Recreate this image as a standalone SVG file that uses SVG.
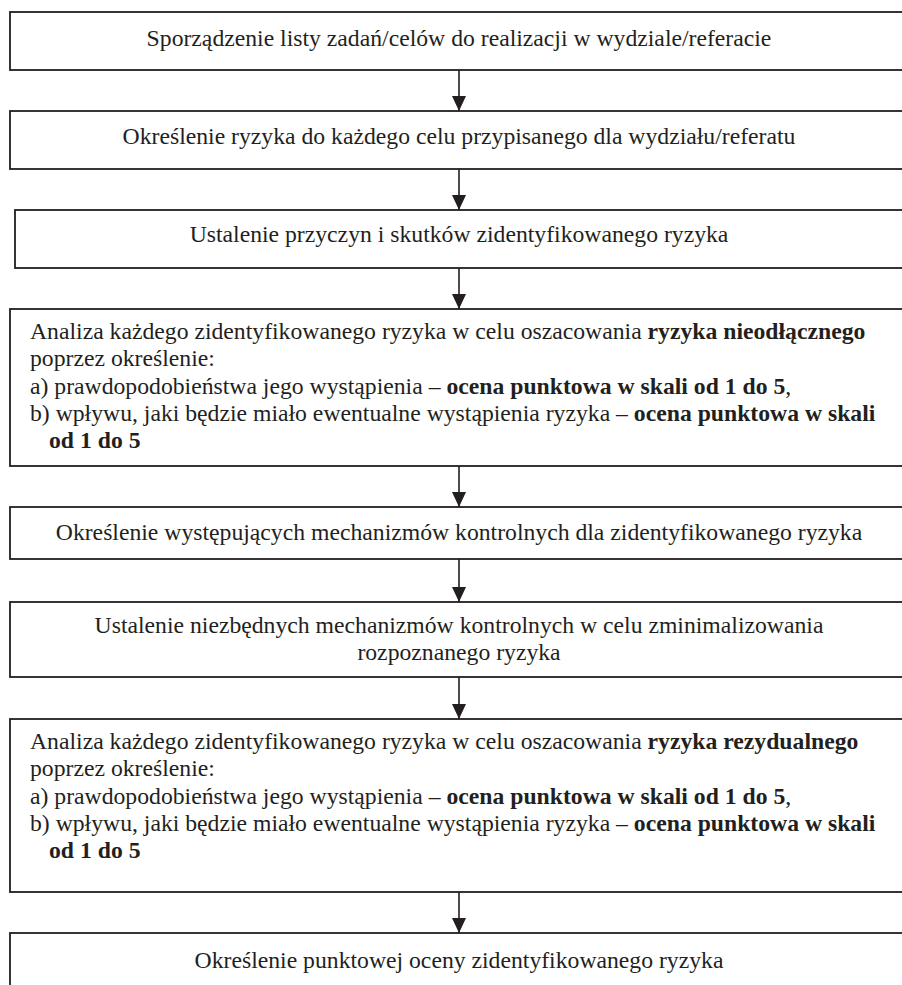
<svg xmlns="http://www.w3.org/2000/svg" width="902" height="985" viewBox="0 0 902 985">
<style>
.box{fill:#fff;stroke:#231f20;stroke-width:1.8}
.t{font-family:"Liberation Serif","Times New Roman",serif;font-size:23.7px;fill:#231f20}
.c{text-anchor:middle}
.b{font-weight:bold}
.con{stroke:#231f20;stroke-width:1.6;fill:none}
</style>
<defs>
<marker id="ah" markerWidth="15" markerHeight="14" refX="15" refY="7" orient="auto" markerUnits="userSpaceOnUse">
<path d="M0,0 L15,7 L0,14 Z" fill="#231f20"/>
</marker>
</defs>
<rect width="902" height="985" fill="#fff"/>
<g id="connectors">
<line class="con" x1="459" y1="70" x2="459" y2="111" marker-end="url(#ah)"/>
<line class="con" x1="459" y1="169" x2="459" y2="210" marker-end="url(#ah)"/>
<line class="con" x1="459" y1="268" x2="459" y2="309" marker-end="url(#ah)"/>
<line class="con" x1="459" y1="466" x2="459" y2="507" marker-end="url(#ah)"/>
<line class="con" x1="459" y1="559" x2="459" y2="602" marker-end="url(#ah)"/>
<line class="con" x1="459" y1="677" x2="459" y2="719" marker-end="url(#ah)"/>
<line class="con" x1="459" y1="892" x2="459" y2="933" marker-end="url(#ah)"/>
</g>
<g id="n1">
<rect class="box" x="10" y="12" width="900" height="58"/>
<text class="t c" x="459" y="46">Sporządzenie listy zadań/celów do realizacji w wydziale/referacie</text>
</g>
<g id="n2">
<rect class="box" x="10" y="111" width="900" height="58"/>
<text class="t c" x="459" y="144">Określenie ryzyka do każdego celu przypisanego dla wydziału/referatu</text>
</g>
<g id="n3">
<rect class="box" x="15" y="210" width="895" height="58"/>
<text class="t c" x="459" y="242">Ustalenie przyczyn i skutków zidentyfikowanego ryzyka</text>
</g>
<g id="n4">
<rect class="box" x="10" y="309" width="900" height="157"/>
<text class="t" x="30" y="339">Analiza każdego zidentyfikowanego ryzyka w celu oszacowania <tspan class="b">ryzyka nieodłącznego</tspan></text>
<text class="t" x="30" y="366.3">poprzez określenie:</text>
<text class="t" x="30" y="393.6">a) prawdopodobieństwa jego wystąpienia – <tspan class="b">ocena punktowa w skali od 1 do 5</tspan>,</text>
<text class="t" x="30" y="420.9">b) wpływu, jaki będzie miało ewentualne wystąpienia ryzyka – <tspan class="b">ocena punktowa w skali</tspan></text>
<text class="t b" x="49" y="448.2">od 1 do 5</text>
</g>
<g id="n5">
<rect class="box" x="10" y="507" width="900" height="52"/>
<text class="t c" x="459" y="540">Określenie występujących mechanizmów kontrolnych dla zidentyfikowanego ryzyka</text>
</g>
<g id="n6">
<rect class="box" x="10" y="602" width="900" height="75"/>
<text class="t c" x="459" y="633">Ustalenie niezbędnych mechanizmów kontrolnych w celu zminimalizowania</text>
<text class="t c" x="459" y="660">rozpoznanego ryzyka</text>
</g>
<g id="n7">
<rect class="box" x="10" y="719" width="900" height="173"/>
<text class="t" x="30" y="749">Analiza każdego zidentyfikowanego ryzyka w celu oszacowania <tspan class="b">ryzyka rezydualnego</tspan></text>
<text class="t" x="30" y="776.3">poprzez określenie:</text>
<text class="t" x="30" y="803.6">a) prawdopodobieństwa jego wystąpienia – <tspan class="b">ocena punktowa w skali od 1 do 5</tspan>,</text>
<text class="t" x="30" y="830.9">b) wpływu, jaki będzie miało ewentualne wystąpienia ryzyka – <tspan class="b">ocena punktowa w skali</tspan></text>
<text class="t b" x="49" y="858.2">od 1 do 5</text>
</g>
<g id="n8">
<rect class="box" x="10" y="933" width="900" height="70"/>
<text class="t c" x="459" y="968">Określenie punktowej oceny zidentyfikowanego ryzyka</text>
</g>
</svg>
